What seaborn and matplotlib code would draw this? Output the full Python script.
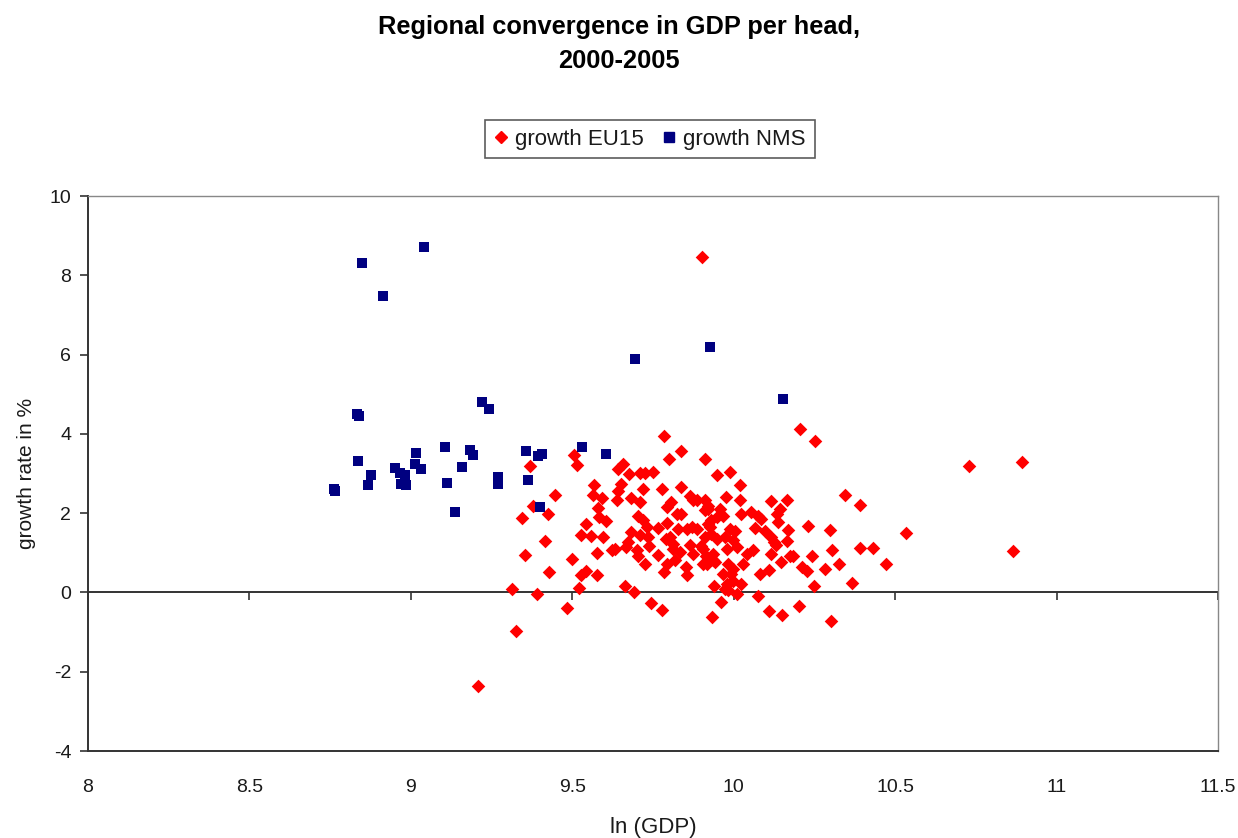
import matplotlib
matplotlib.use("Agg")
import matplotlib.pyplot as plt
import seaborn as sns
import pandas as pd
from matplotlib.lines import Line2D

# ---------------- data ----------------
eu15_x = [9.784, 9.836, 9.800, 9.912, 9.504, 9.514, 9.369, 9.448, 9.379, 9.425,
          9.343, 9.415, 9.353, 9.429, 9.312, 9.391, 9.484, 9.325, 9.209, 9.498,
          9.522, 9.526, 9.544, 9.578, 9.544, 9.527, 9.558, 9.594, 9.576, 9.567,
          9.563, 9.591, 9.580, 9.583, 9.603, 9.641, 9.658, 9.675, 9.651, 9.643,
          9.640, 9.709, 9.725, 9.751, 9.720, 9.682, 9.709, 9.778, 9.664, 9.690,
          9.744, 9.777, 9.623, 9.632, 9.665, 9.673, 9.682, 9.709, 9.699, 9.705,
          9.725, 9.704, 9.718, 9.730, 9.736, 9.737, 9.766, 9.764, 9.785, 9.792,
          9.794, 9.789, 9.802, 9.813, 9.813, 9.792, 9.806, 9.823, 9.837, 9.828,
          9.854, 9.870, 9.887, 9.838, 9.864, 9.875, 9.887, 9.911, 9.921, 9.947,
          9.947, 9.833, 9.864, 9.875, 9.900, 9.914, 9.916, 9.937, 9.851, 9.854,
          9.939, 9.934, 9.921, 9.931,
          10.205, 10.251, 9.988, 10.019, 9.976, 10.019, 10.115, 10.166, 10.143, 10.133,
          10.022, 10.055, 10.076, 10.086, 10.138, 10.066, 10.097, 10.169, 10.231, 10.298,
          10.344, 10.391, 10.535, 10.117, 10.124, 10.131, 10.166, 10.060, 10.115, 10.148,
          10.174, 10.184, 10.243, 10.305, 10.391, 10.432, 10.471, 10.327, 10.282, 10.210,
          10.226, 10.081, 10.109, 10.024, 10.249, 10.365, 10.009, 10.074, 9.960, 10.109,
          10.150, 10.203, 10.301,
          9.921, 9.911, 9.957, 9.968, 9.931, 9.926, 9.988, 10.003, 9.911, 9.947,
          9.973, 9.999, 9.906, 9.937, 9.978, 10.009, 10.040, 9.906, 9.942, 9.983,
          9.999, 10.030, 9.968, 9.993, 9.978, 9.999, 9.983, 9.973, 9.817,
          10.728, 10.893, 10.865, 9.902]
eu15_y = [3.95, 3.57, 3.37, 3.36, 3.47, 3.22, 3.20, 2.47, 2.19, 1.99,
          1.88, 1.29, 0.94, 0.52, 0.08, -0.03, -0.39, -0.98, -2.36, 0.84,
          0.12, 0.45, 0.55, 0.43, 1.72, 1.46, 1.42, 1.40, 0.99, 2.72,
          2.47, 2.38, 2.14, 1.90, 1.80, 3.12, 3.23, 3.00, 2.74, 2.56,
          2.32, 3.02, 3.02, 3.03, 2.62, 2.39, 2.27, 2.62, 0.16, 0.00,
          -0.27, -0.45, 1.06, 1.10, 1.14, 1.27, 1.52, 1.44, 1.06, 0.91,
          0.71, 1.94, 1.82, 1.66, 1.40, 1.16, 1.63, 0.95, 0.51, 0.71,
          1.75, 1.35, 1.40, 1.23, 1.10, 2.15, 2.28, 1.99, 1.99, 1.61,
          1.61, 1.65, 1.61, 2.66, 2.42, 2.32, 2.32, 2.32, 2.11, 1.90,
          2.95, 1.02, 1.19, 0.98, 1.16, 0.93, 0.72, 0.81, 0.64, 0.43,
          0.16, -0.62, 1.73, 1.48,
          4.12, 3.83, 3.05, 2.70, 2.40, 2.32, 2.30, 2.32, 2.11, 1.99,
          1.99, 2.03, 1.94, 1.86, 1.77, 1.63, 1.56, 1.58, 1.68, 1.58,
          2.45, 2.21, 1.51, 1.40, 1.27, 1.20, 1.29, 1.06, 0.96, 0.76,
          0.93, 0.93, 0.93, 1.08, 1.13, 1.12, 0.71, 0.71, 0.60, 0.64,
          0.55, 0.47, 0.57, 0.22, 0.16, 0.24, -0.03, -0.10, -0.24, -0.47,
          -0.58, -0.35, -0.73,
          2.19, 2.07, 2.11, 1.94, 1.82, 1.65, 1.61, 1.56, 1.40, 1.35,
          1.40, 1.31, 1.10, 0.98, 1.10, 1.14, 0.98, 0.72, 0.76, 0.72,
          0.60, 0.72, 0.47, 0.47, 0.22, 0.30, 0.05, 0.09, 0.82,
          3.18, 3.30, 1.04, 8.45]

nms_x = [9.042, 8.848, 8.915, 9.695, 9.221, 9.242, 8.834, 8.840, 9.015, 9.106,
         9.182, 9.194, 9.358, 9.393, 9.407, 9.530, 9.604, 8.837, 9.014, 9.031,
         9.157, 8.952, 8.966, 8.982, 8.984, 8.969, 8.876, 8.868, 9.269, 9.271,
         9.113, 9.362, 8.762, 8.765, 9.137, 9.401, 9.926, 10.152]
nms_y = [8.71, 8.32, 7.47, 5.89, 4.81, 4.63, 4.50, 4.46, 3.52, 3.66,
         3.60, 3.46, 3.58, 3.43, 3.50, 3.68, 3.50, 3.31, 3.25, 3.11,
         3.16, 3.15, 3.01, 2.95, 2.70, 2.74, 2.95, 2.72, 2.91, 2.74,
         2.77, 2.83, 2.61, 2.56, 2.03, 2.15, 6.18, 4.89]

title = "Regional convergence in GDP per head,\n2000-2005"
x_label = "ln (GDP)"
y_label = "growth rate in %"
series_names = ["growth EU15", "growth NMS"]
x_ticks = [8, 8.5, 9, 9.5, 10, 10.5, 11, 11.5]
x_tick_labels = ["8", "8.5", "9", "9.5", "10", "10.5", "11", "11.5"]
y_ticks = [-4, -2, 0, 2, 4, 6, 8, 10]

# ---------------- plot ----------------
sns.set_theme(style="white")
plt.rcParams['font.family'] = ['Liberation Sans', 'DejaVu Sans']
plt.rcParams['axes.unicode_minus'] = False
TXT = "#1a1a1a"

df_eu = pd.DataFrame({"x": eu15_x, "y": eu15_y})
df_nms = pd.DataFrame({"x": nms_x, "y": nms_y})

fig = plt.figure(figsize=(12.38, 8.38), dpi=100)
ax = fig.add_axes([88/1238, 1 - 751/838, (1218-88)/1238, (751-196)/838])

sns.scatterplot(data=df_eu, x="x", y="y", ax=ax, marker="D", color="#ff0000",
                s=48, linewidth=0, zorder=3)
sns.scatterplot(data=df_nms, x="x", y="y", ax=ax, marker="s", color="#000080",
                s=62, linewidth=0, zorder=4)

ax.set_xlim(8, 11.5)
ax.set_ylim(-4, 10)
ax.set_xticks(x_ticks)
ax.set_xticklabels(x_tick_labels)
ax.set_yticks(y_ticks)
ax.tick_params(axis="x", length=0, pad=20, labelsize=14, colors=TXT)
ax.tick_params(axis="y", direction="out", length=6, width=1.2, pad=6,
               labelsize=14, colors="#333333", labelcolor=TXT, left=True)

for side in ["left", "bottom"]:
    ax.spines[side].set_color("#333333")
    ax.spines[side].set_linewidth(1.4)
for side in ["top", "right"]:
    ax.spines[side].set_color("#888888")
    ax.spines[side].set_linewidth(1.0)

# zero axis line with tick marks (Excel-style crossing at 0)
sec = ax.secondary_xaxis(4/14)
sec.set_xticks(x_ticks)
sec.set_xticklabels([])
sec.tick_params(axis="x", direction="out", length=6, width=1.2, colors="#333333")
sec.spines["bottom"].set_color("#333333")
sec.spines["bottom"].set_linewidth(1.4)

ax.set_xlabel(x_label, fontsize=16, color=TXT, labelpad=15)
ax.set_ylabel(y_label, fontsize=15, color=TXT, labelpad=10)

fig.text(0.5, 1 - 44/838, title, ha="center", va="center", fontsize=18.3,
         fontweight="bold", color="#000000", linespacing=1.5)

handles = [
    Line2D([], [], marker="D", color="#ff0000", linestyle="none", markersize=6),
    Line2D([], [], marker="s", color="#000080", linestyle="none", markersize=6.5),
]
leg = fig.legend(handles, series_names, loc="center",
                 bbox_to_anchor=(650/1238, 1 - 139/838), ncol=2,
                 fontsize=16, frameon=True, fancybox=False, shadow=False,
                 handlelength=0.6, handletextpad=0.35, columnspacing=0.8,
                 borderpad=0.4, labelcolor=TXT)
leg.get_frame().set_edgecolor("#333333")
leg.get_frame().set_linewidth(1.2)

fig.savefig("out.png", dpi=100)
